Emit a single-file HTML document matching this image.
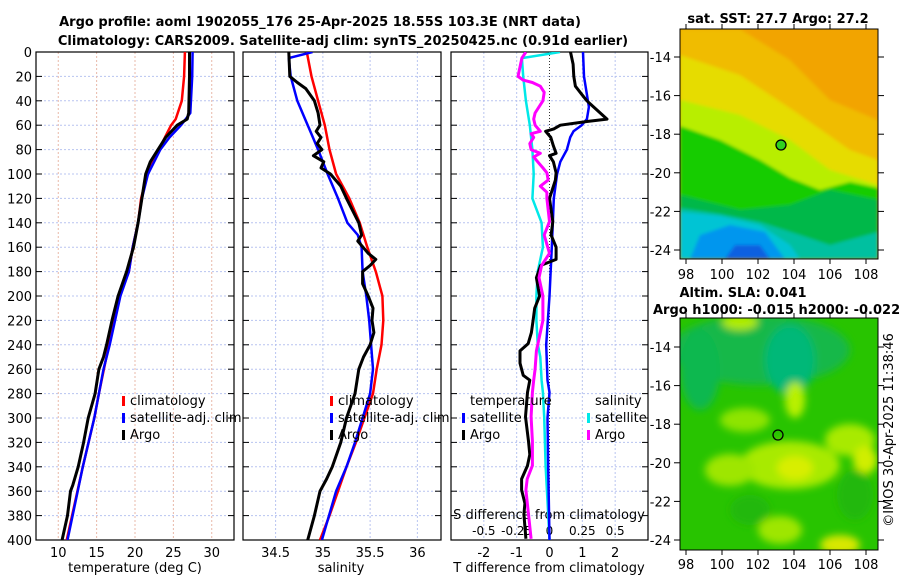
<!DOCTYPE html>
<html><head><meta charset="utf-8">
<style>
html,body{margin:0;padding:0;background:#fff;}
svg{display:block;font-family:"DejaVu Sans","Liberation Sans",sans-serif;}
</style></head>
<body>
<svg id="chart" width="900" height="580" viewBox="0 0 900 580">
<defs>
<filter id="blur3" x="-10%" y="-10%" width="120%" height="120%"><feGaussianBlur stdDeviation="4"/></filter>
<filter id="blur1" x="-10%" y="-10%" width="120%" height="120%"><feGaussianBlur stdDeviation="1.5"/></filter>
<clipPath id="clipTop"><rect x="680" y="29" width="198" height="230"/></clipPath>
<clipPath id="clipBot"><rect x="680" y="318" width="198" height="232"/></clipPath>
<clipPath id="cp1"><rect x="36" y="52" width="198" height="488"/></clipPath>
<clipPath id="cp2"><rect x="243" y="52" width="198" height="488"/></clipPath>
<clipPath id="cp3"><rect x="451" y="52" width="197" height="488"/></clipPath>
</defs>
<g font-weight="bold" font-size="13" text-anchor="middle">
<text x="320" y="26">Argo profile: aoml 1902055_176 25-Apr-2025 18.55S 103.3E (NRT data)</text>
<text x="343" y="45">Climatology: CARS2009. Satellite-adj clim: synTS_20250425.nc (0.91d earlier)</text>
</g>
<g id="panels"></g>

<!-- top map: SST -->
<g>
<text x="778" y="23" font-weight="bold" font-size="13" text-anchor="middle">sat. SST: 27.7 Argo: 27.2</text>
<g clip-path="url(#clipTop)">
<rect x="680" y="29" width="198" height="230" fill="#f2a400"/>
<g filter="url(#blur1)">
<polygon points="680,29 740,29 790,60 830,100 878,120 878,259 680,259" fill="#f0bc00"/>
<polygon points="680,55 740,75 800,115 850,150 878,160 878,259 680,259" fill="#e6dc00"/>
<polygon points="680,100 740,115 790,140 830,170 878,185 878,259 680,259" fill="#b8ee00"/>
<polygon points="680,126 720,140 760,160 790,178 820,190 850,182 878,188 878,259 680,259" fill="#18cc00"/>
<polygon points="680,195 740,210 790,205 830,190 878,200 878,259 680,259" fill="#00b848"/>
<polygon points="680,208 720,214 760,222 800,235 830,245 878,232 878,259 680,259" fill="#00c0a0"/>
<polygon points="680,212 720,216 760,225 790,245 800,259 680,259" fill="#00c4d4"/>
<polygon points="690,259 700,235 730,225 765,232 785,259" fill="#0096ee"/>
<polygon points="725,259 735,245 760,245 770,259" fill="#1060e0"/>
</g>
</g>
<rect x="680" y="29" width="198" height="230" fill="none" stroke="#000" stroke-width="1"/>
<circle cx="781" cy="145" r="5" fill="#30d020" stroke="#000" stroke-width="1.3"/>
<g id="topMapAxes"></g>
</g>

<!-- bottom map: SLA -->
<g>
<text x="743" y="297" font-weight="bold" font-size="13" text-anchor="middle">Altim. SLA: 0.041</text>
<text x="653" y="314" font-weight="bold" font-size="13">Argo h1000: -0.015 h2000: -0.022</text>
<g clip-path="url(#clipBot)">
<rect x="680" y="318" width="198" height="232" fill="#28c400"/>
<g filter="url(#blur3)">
<ellipse cx="760" cy="350" rx="90" ry="35" fill="#14b848"/>
<ellipse cx="790" cy="360" rx="25" ry="35" fill="#00b878"/>
<ellipse cx="700" cy="370" rx="20" ry="40" fill="#10b850"/>
<ellipse cx="740" cy="322" rx="18" ry="8" fill="#b0ec00"/>
<ellipse cx="795" cy="400" rx="10" ry="18" fill="#b8f000"/>
<ellipse cx="790" cy="465" rx="50" ry="24" fill="#a8ea00"/>
<ellipse cx="795" cy="468" rx="18" ry="12" fill="#d8ee00"/>
<ellipse cx="850" cy="440" rx="25" ry="16" fill="#a8ea00"/>
<ellipse cx="865" cy="460" rx="12" ry="14" fill="#d0ee00"/>
<ellipse cx="730" cy="470" rx="25" ry="16" fill="#9ee600"/>
<ellipse cx="780" cy="530" rx="22" ry="14" fill="#9ee600"/>
<ellipse cx="840" cy="545" rx="20" ry="10" fill="#d8e800"/>
<ellipse cx="855" cy="495" rx="18" ry="25" fill="#20b810"/>
<ellipse cx="750" cy="510" rx="20" ry="15" fill="#20b810"/>
<ellipse cx="745" cy="420" rx="25" ry="12" fill="#8ee400"/>
</g>
</g>
<rect x="680" y="318" width="198" height="232" fill="none" stroke="#000" stroke-width="1"/>
<circle cx="778" cy="435" r="5" fill="none" stroke="#000" stroke-width="1.3"/>
<g id="botMapAxes"></g>
</g>
<text x="893" y="430" font-size="13" text-anchor="middle" transform="rotate(-90 893 430)">©IMOS 30-Apr-2025 11:38:46</text>
</svg>
<script>
// ---- data: temperature panel ----
const tClimDepth = [0,20,40,55,60,70,80,100,120,140,160,180,200,240,280,300,340,400];
const tClimVal   = [26.5,26.4,26.1,25.3,24.7,23.9,23.1,21.6,20.8,20.4,19.7,19.2,18.0,16.6,15.3,14.7,13.2,11.1];
const tSatDepth  = [0,20,50,60,70,80,100,120,140,160,180,200,240,260,300,340,400];
const tSatVal    = [27.5,27.45,27.2,26.0,24.5,23.3,21.7,20.9,20.4,19.7,19.2,18.1,16.7,15.9,14.7,13.2,11.2];
const tArgoDepth = [0,20,50,55,60,70,80,90,100,120,140,160,180,200,220,240,250,260,280,300,320,340,355,360,380,400];
const tArgoVal   = [27.1,27.1,27.0,26.8,25.5,24.0,23.0,22.0,21.4,20.9,20.4,19.8,18.9,17.8,17.0,16.3,15.9,15.3,14.8,13.9,13.3,12.6,11.9,11.6,11.2,10.5];
// ---- data: salinity panel ----
const sClimDepth = [0,20,40,60,80,100,120,140,160,180,200,220,240,260,280,300,320,340,360,380,400];
const sClimVal   = [34.83,34.88,34.95,35.02,35.07,35.14,35.28,35.39,35.47,35.56,35.63,35.64,35.62,35.57,35.53,35.44,35.35,35.25,35.16,35.07,34.97];
const sSatDepth  = [0,5,20,40,60,80,100,120,140,150,160,180,200,220,240,260,280,300,320,340,360,400];
const sSatVal    = [34.89,34.64,34.66,34.73,34.84,34.95,35.05,35.16,35.26,35.37,35.41,35.42,35.46,35.49,35.51,35.53,35.50,35.42,35.34,35.25,35.14,34.99];
const sArgoDepth = [0,20,25,30,40,50,60,65,70,75,80,85,90,95,100,110,120,140,150,155,165,170,175,180,190,200,210,220,230,240,250,260,280,300,320,340,350,360,380,400];
const sArgoVal   = [34.64,34.65,34.73,34.82,34.91,34.95,34.97,34.93,34.98,34.94,34.99,34.90,35.01,34.98,35.08,35.19,35.25,35.38,35.41,35.37,35.48,35.56,35.50,35.42,35.42,35.48,35.53,35.52,35.54,35.50,35.43,35.38,35.34,35.25,35.19,35.10,35.04,34.97,34.91,34.84];
// ---- data: difference panel ----
const dTSatDepth = [0,20,45,55,60,65,70,80,90,100,120,140,160,200,240,269,279,300,340,400];
const dTSatVal   = [1.02,1.05,1.2,1.14,0.98,0.73,0.63,0.53,0.33,0.23,0.13,0.1,0.07,0.0,-0.1,-0.06,0.0,-0.06,-0.04,0.0];
const dTArgoDepth = [0,10,20,28,35,40,45,55,57,60,63,65,70,77,83,85,90,99,105,120,139,150,160,170,175,185,200,210,220,230,239,245,255,265,269,279,299,319,330,339,350,359,370,379,399];
const dTArgoVal   = [0.64,0.72,0.74,0.79,0.99,1.14,1.34,1.75,1.14,0.33,0.13,-0.12,0.04,0.12,0.2,0.0,0.12,0.2,0.18,0.0,0.1,0.05,0.2,0.2,-0.27,-0.4,-0.3,-0.45,-0.5,-0.55,-0.65,-0.9,-0.9,-0.8,-0.6,-0.67,-0.73,-0.64,-0.6,-0.67,-0.85,-0.85,-0.75,-0.78,-0.72];
const dSSatDepth = [0,5,20,40,60,80,100,120,140,160,180,200,220,239,250,269,279,299,339,379,400];
const dSSatVal   = [0.08,-0.21,-0.2,-0.18,-0.15,-0.13,-0.12,-0.13,-0.06,-0.05,-0.09,-0.1,-0.1,-0.09,-0.07,-0.06,-0.05,-0.04,-0.03,-0.01,0.0];
const dSArgoDepth = [0,5,20,23,25,28,33,40,50,55,60,65,67,70,75,80,83,86,90,95,99,105,110,115,120,139,150,165,175,185,200,220,235,245,260,269,279,299,319,339,350,359,379,399];
const dSArgoVal   = [-0.18,-0.21,-0.24,-0.2,-0.13,-0.07,-0.04,-0.05,-0.11,-0.12,-0.11,-0.07,-0.14,-0.12,-0.15,-0.14,-0.07,-0.12,-0.09,-0.05,-0.02,-0.01,-0.07,-0.02,-0.02,0.0,-0.04,0.0,-0.06,-0.08,-0.05,-0.05,-0.08,-0.1,-0.11,-0.12,-0.13,-0.14,-0.13,-0.13,-0.17,-0.18,-0.16,-0.14];
// ---- tick labels ----
const depthTicks = [0,20,40,60,80,100,120,140,160,180,200,220,240,260,280,300,320,340,360,380,400];
const tempTicks = [10,15,20,25,30];
const salTicks = [34.5,35,35.5,36];
const tDiffTicks = [-2,-1,0,1,2];
const sDiffTicks = [-0.5,-0.25,0,0.25,0.5];
const sDiffLabels = ['-0.5','-0.25','0','0.25','0.5'];
const latTicks = [-14,-16,-18,-20,-22,-24];
const lonTicks = [98,100,102,104,106,108];

const NS='http://www.w3.org/2000/svg';
const root=document.getElementById('panels');
function mk(tag,attrs,parent){const e=document.createElementNS(NS,tag);for(const k in attrs)e.setAttribute(k,attrs[k]);(parent||root).appendChild(e);return e;}
const Y0=52,Y1=540;
function yD(d){return Y0+(d/400)*(Y1-Y0);}
function linScale(d0,d1,r0,r1){return v=>r0+(v-d0)/(d1-d0)*(r1-r0);}
const P=[
 {x0:36,x1:234,sx:linScale(7.1,32.9,36,234),clip:'cp1'},
 {x0:243,x1:441,sx:linScale(34.155,36.25,243,441),clip:'cp2'},
 {x0:451,x1:648,sx:linScale(-3,3,451,648),clip:'cp3'}
];
const sxS=linScale(-0.75,0.75,451,648);

function panelFrame(p,idx,vticks,vgridColor){
  const g=mk('g',{});
  
  
  depthTicks.forEach(d=>{
    const l=mk('line',{x1:p.x0,x2:p.x1,y1:yD(d),y2:yD(d),stroke:'#b8c4f0','stroke-width':1,'stroke-dasharray':'2,2'},g);
    
    
    mk('line',{x1:p.x0,x2:p.x0+6,y1:yD(d),y2:yD(d),stroke:'#000','stroke-width':1},g);
    mk('line',{x1:p.x1-6,x2:p.x1,y1:yD(d),y2:yD(d),stroke:'#000','stroke-width':1},g);
  });
  vticks.forEach(v=>{
    const l=mk('line',{x1:p.sx(v),x2:p.sx(v),y1:Y0,y2:Y1,stroke:vgridColor,'stroke-width':1,'stroke-dasharray':'2,2'},g);
    
    
  });
  mk('rect',{x:p.x0,y:Y0,width:p.x1-p.x0,height:Y1-Y0,fill:'none',stroke:'#000','stroke-width':1.2},g);
  return g;
}
function series(p,sx,depths,vals,color,w,name){
  let dstr='';
  depths.forEach((d,i)=>{dstr+=(i?'L':'M')+sx(vals[i]).toFixed(1)+','+yD(d).toFixed(1);});
  const path=mk('path',{d:dstr,fill:'none',stroke:color,'stroke-width':w,'stroke-linejoin':'round','clip-path':'url(#'+p.clip+')'});
  
  
}
function text(x,y,s,anchor,name,size){
  const t=mk('text',{x:x,y:y,'font-size':size||13,'text-anchor':anchor||'start'});
  t.textContent=s;
  
  
  return t;
}
function legendMark(x,y,color,name){
  const r=mk('rect',{x:x,y:y-9,width:3,height:10,fill:color});
  
  
}

// panel 1
panelFrame(P[0],0,tempTicks,'#e8b8a8');
depthTicks.forEach(d=>text(32,yD(d)+5,String(d),'end','y-tick-label'));
tempTicks.forEach(v=>text(P[0].sx(v),557,String(v),'middle','temp-tick-label'));
text(135,572,'temperature (deg C)','middle','temp-axis-title');
series(P[0],P[0].sx,tClimDepth,tClimVal,'#ff0000',2.5,'temp-climatology-line');
series(P[0],P[0].sx,tSatDepth,tSatVal,'#0000ff',2.5,'temp-satellite-line');
series(P[0],P[0].sx,tArgoDepth,tArgoVal,'#000',3,'temp-argo-line');
legendMark(122,405,'#ff0000','legend-climatology-mark');text(130,405,'climatology','start','legend-climatology');
legendMark(122,422,'#0000ff','legend-satellite-mark');text(130,422,'satellite-adj. clim','start','legend-satellite');
legendMark(122,439,'#000','legend-argo-mark');text(130,439,'Argo','start','legend-argo');

// panel 2
panelFrame(P[1],1,salTicks,'#b8c4f0');
salTicks.forEach(v=>text(P[1].sx(v),557,String(v),'middle','sal-tick-label'));
text(341,572,'salinity','middle','sal-axis-title');
series(P[1],P[1].sx,sClimDepth,sClimVal,'#ff0000',2.5,'sal-climatology-line');
series(P[1],P[1].sx,sSatDepth,sSatVal,'#0000ff',2.5,'sal-satellite-line');
series(P[1],P[1].sx,sArgoDepth,sArgoVal,'#000',3,'sal-argo-line');
legendMark(330,405,'#ff0000','legend2-climatology-mark');text(338,405,'climatology','start','legend2-climatology');
legendMark(330,422,'#0000ff','legend2-satellite-mark');text(338,422,'satellite-adj. clim','start','legend2-satellite');
legendMark(330,439,'#000','legend2-argo-mark');text(338,439,'Argo','start','legend2-argo');

// panel 3
panelFrame(P[2],2,tDiffTicks.filter(v=>v!==0),'#b8c4f0');
const z=mk('line',{x1:P[2].sx(0),x2:P[2].sx(0),y1:Y0,y2:Y1,stroke:'#333','stroke-width':1,'stroke-dasharray':'1,2'});


tDiffTicks.forEach(v=>text(P[2].sx(v),557,String(v),'middle','tdiff-tick-label'));
text(549,572,'T difference from climatology','middle','tdiff-axis-title');
sDiffTicks.forEach((v,i)=>text(sxS(v),535,sDiffLabels[i],'middle','sdiff-tick-label',12));
text(549,519,'S difference from climatology','middle','sdiff-axis-title');
series(P[2],sxS,dSSatDepth,dSSatVal,'#00e8e8',2.5,'sdiff-satellite-line');
series(P[2],P[2].sx,dTSatDepth,dTSatVal,'#0000ff',2.5,'tdiff-satellite-line');
series(P[2],P[2].sx,dTArgoDepth,dTArgoVal,'#000',3,'tdiff-argo-line');
series(P[2],sxS,dSArgoDepth,dSArgoVal,'#ff00ff',3,'sdiff-argo-line');
text(470,405,'temperature','start','legend3-temperature-header');
legendMark(462,422,'#0000ff','legend3-tsat-mark');text(470,422,'satellite','start','legend3-tsat');
legendMark(462,439,'#000','legend3-targo-mark');text(470,439,'Argo','start','legend3-targo');
text(595,405,'salinity','start','legend3-salinity-header');
legendMark(587,422,'#00e8e8','legend3-ssat-mark');text(595,422,'satellite','start','legend3-ssat');
legendMark(587,439,'#ff00ff','legend3-sargo-mark');text(595,439,'Argo','start','legend3-sargo');

// map axes
function mapAxes(gid,top,bot,latY,xLabelY){
  const g=document.getElementById(gid);
  const lonX=linScale(98,108,686,866);
  latTicks.forEach(l=>{
    const y=latY(l);
    mk('line',{x1:674,x2:680,y1:y,y2:y,stroke:'#000'},g);
    mk('line',{x1:878,x2:884,y1:y,y2:y,stroke:'#000'},g);
    const t=mk('text',{x:671,y:y+5,'font-size':13,'text-anchor':'end'},g);t.textContent=String(l);
    
    
  });
  lonTicks.forEach(l=>{
    const x=lonX(l);
    mk('line',{x1:x,x2:x,y1:bot,y2:bot+5,stroke:'#000'},g);
    mk('line',{x1:x,x2:x,y1:top-5,y2:top,stroke:'#000'},g);
    const t=mk('text',{x:x,y:xLabelY,'font-size':13,'text-anchor':'middle'},g);t.textContent=String(l);
    
    
  });
}
mapAxes('topMapAxes',29,259,linScale(-14,-24,57,250),279);
mapAxes('botMapAxes',318,550,linScale(-14,-24,347,540),569);
</script>
</body></html>
